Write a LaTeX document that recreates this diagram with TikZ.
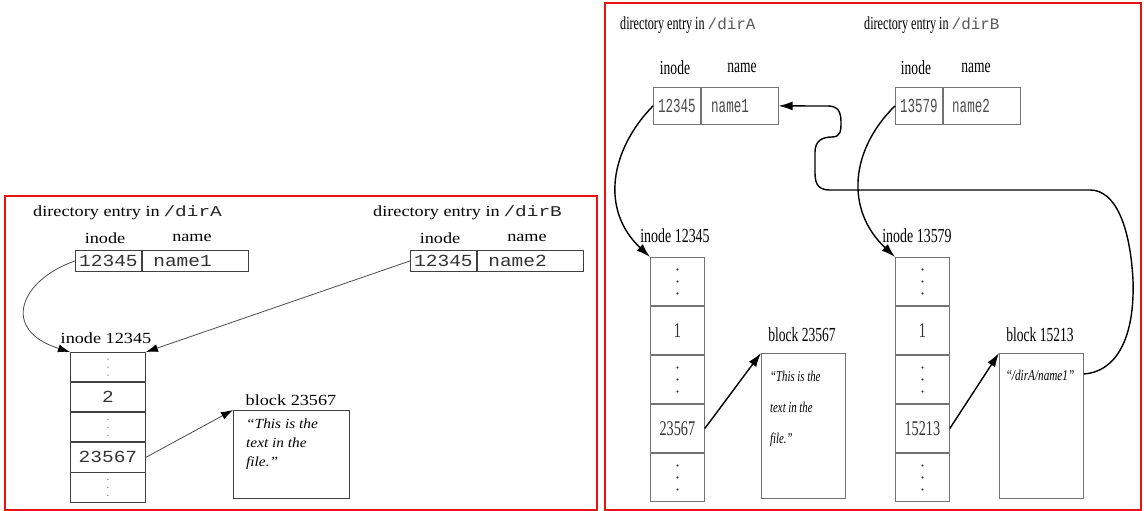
\documentclass[tikz,border=0pt]{standalone}
\usepackage{fontspec}
\setmainfont{Liberation Serif}
\setmonofont{Liberation Mono}
\usepackage{graphicx}
\usetikzlibrary{arrows.meta,calc}
\newcommand\LW[1]{\scalebox{1.18}[1]{#1}}
\newcommand\LT[1]{\scalebox{1.15}[1]{#1}}
\newcommand\RC[1]{\scalebox{0.66}[1]{#1}}
\newcommand\RT[1]{\scalebox{0.63}[1]{#1}}
\begin{document}
\begin{tikzpicture}[x=1bp,y=-1bp,
 frame/.style={draw={rgb,255:red,232;green,18;blue,18}, line width=1.6bp},
 lcell/.style={draw=black!75,line width=0.9bp,inner sep=0pt,anchor=north west},
 rcell/.style={draw=black!55,line width=0.8bp,inner sep=0pt,anchor=north west},
 ltext/.style={inner sep=0pt,font=\fontsize{15.5}{18}\selectfont},
 ltt/.style={font=\fontsize{17}{20}\selectfont\ttfamily,text=black!80},
 rtext/.style={inner sep=0pt,font=\fontsize{20}{24}\selectfont},
 rtt/.style={font=\fontsize{20}{24}\selectfont\ttfamily,text=black!70},
 rnum/.style={font=\fontsize{21}{24}\selectfont,text=black!80},
 larr/.style={draw=black!70,line width=0.8bp,-{Latex[length=12bp,width=8bp,color=black]}},
 rarr/.style={draw=black,line width=1.4bp,-{Latex[length=14bp,width=9bp]}},
 ldot/.style={fill=black!50},
 rdot/.style={fill=black!80}
]
\useasboundingbox (0,0) rectangle (1144,511);
\fill[white] (0,0) rectangle (1144,511);

% ---------------- left panel ----------------
\draw[frame] (5,196) rectangle (597,510);

\node[ltext,anchor=west] (lhA) at (33,213) {\LW{directory entry in} \scalebox{1.3}[1]{\fontsize{15}{18}\selectfont\ttfamily\color{black!85}/dirA}};
\node[ltext,anchor=west] (lhB) at (373,213) {\LW{directory entry in} \scalebox{1.3}[1]{\fontsize{15}{18}\selectfont\ttfamily\color{black!85}/dirB}};
\node[ltext] (lhAi) at (105,238) {\LW{inode}};
\node[ltext] (lhAn) at (192,238) {\LW{name}};
\node[ltext] (lhBi) at (440,238) {\LW{inode}};
\node[ltext] (lhBn) at (527,238) {\LW{name}};

\node[lcell,ltt,minimum width=66bp,minimum height=21bp] (lAi) at (75,250) {\LT{12345}};
\node[lcell,ltt,minimum height=21bp,text width=84bp,inner xsep=11bp,align=left] (lAn) at (lAi.north east) {\LT{name1}};
\node[lcell,ltt,minimum width=66bp,minimum height=21bp] (lBi) at (410,250) {\LT{12345}};
\node[lcell,ltt,minimum height=21bp,text width=84bp,inner xsep=11bp,align=left] (lBn) at (lBi.north east) {\LT{name2}};

\node[ltext] (lil) at (106,338) {\LW{inode 12345}};
\node[lcell,minimum width=75bp,minimum height=29.2bp] (lc1) at (70,352) {};
\node[lcell,ltt,minimum width=75bp,minimum height=29.2bp] (lc2) at (lc1.south west) {\LT{2}};
\node[lcell,minimum width=75bp,minimum height=29.2bp] (lc3) at (lc2.south west) {};
\node[lcell,ltt,minimum width=75bp,minimum height=29.2bp] (lc4) at (lc3.south west) {\LT{23567}};
\node[lcell,minimum width=75bp,minimum height=29.2bp] (lc5) at (lc4.south west) {};
\foreach \c in {lc1,lc3,lc5}{
  \fill[ldot] ([yshift=8bp]\c.center) circle (0.75bp);
  \fill[ldot] (\c.center) circle (0.75bp);
  \fill[ldot] ([yshift=-8bp]\c.center) circle (0.75bp);
}

\node[ltext] (lbl) at (291,400) {\LW{block 23567}};
\node[lcell,minimum width=116bp,minimum height=88bp] (lbk) at (233,410) {};
\node[anchor=north west,inner sep=0pt,align=left,font=\fontsize{14}{19}\selectfont\itshape] (lbt) at (246,419)
  {\scalebox{1.1}[1]{“This is the}\\ \scalebox{1.1}[1]{text in the}\\ \scalebox{1.1}[1]{file.”}};

\draw[larr] (lAi.west) .. controls (20,280) and (0,330) .. (lc1.north west);
\draw[larr] (lBi.west) -- (lc1.north east);
\draw[larr] (lc4.east) -- (lbk.north west);

% ---------------- right panel ----------------
\draw[frame] (605,3) rectangle (1141,510);

\node[inner sep=0pt,anchor=west] (rhA) at (620,25) {\fontsize{18.5}{21}\selectfont\RC{directory entry in}\,{\fontsize{16}{18}\selectfont\ttfamily\color{black!65}/dirA}};
\node[inner sep=0pt,anchor=west] (rhB) at (864,25) {\fontsize{18.5}{21}\selectfont\RC{directory entry in}\,{\fontsize{16}{18}\selectfont\ttfamily\color{black!65}/dirB}};
\node[rtext] (rhAi) at (675,68) {\scalebox{0.68}[1]{inode}};
\node[rtext] (rhAn) at (742,68) {\scalebox{0.68}[1]{name}};
\node[rtext] (rhBi) at (916,68) {\scalebox{0.68}[1]{inode}};
\node[rtext] (rhBn) at (976,68) {\scalebox{0.68}[1]{name}};

\node[rcell,rtt,minimum width=47bp,minimum height=37bp] (rAi) at (653,87) {\RT{12345}};
\node[rcell,rtt,minimum height=37bp,inner xsep=10bp,text width=57bp,align=left] (rAn) at (rAi.north east) {\RT{name1}};
\node[rcell,rtt,minimum width=47bp,minimum height=37bp] (rBi) at (895,87) {\RT{13579}};
\node[rcell,rtt,minimum height=37bp,inner xsep=9bp,text width=59bp,align=left] (rBn) at (rBi.north east) {\RT{name2}};

% inode 12345 (right)
\node[rtext] (ril) at (675,236) {\scalebox{0.7}[1]{inode 12345}};
\node[rcell,minimum width=54bp,minimum height=48.2bp] (rc1) at (650,257) {};
\node[rcell,rnum,minimum width=54bp,minimum height=48.2bp] (rc2) at (rc1.south west) {\scalebox{0.68}[1]{1}};
\node[rcell,minimum width=54bp,minimum height=48.2bp] (rc3) at (rc2.south west) {};
\node[rcell,rnum,minimum width=54bp,minimum height=48.2bp] (rc4) at (rc3.south west) {\scalebox{0.68}[1]{23567}};
\node[rcell,minimum width=54bp,minimum height=48.2bp] (rc5) at (rc4.south west) {};

\node[rtext] (rbAl) at (802,335) {\scalebox{0.68}[1]{block 23567}};
\node[rcell,minimum width=84bp,minimum height=145bp] (rbA) at (761,353) {};
\node[anchor=north west,inner sep=0pt,align=left,font=\fontsize{15}{31}\selectfont\itshape] (rbAt) at (770,371)
  {\scalebox{0.72}[1]{“This is the}\\ \scalebox{0.72}[1]{text in the}\\ \scalebox{0.72}[1]{file.”}};

% inode 13579 (right)
\node[rtext] (rjl) at (917,236) {\scalebox{0.7}[1]{inode 13579}};
\node[rcell,minimum width=54bp,minimum height=48.2bp] (rd1) at (895,257) {};
\node[rcell,rnum,minimum width=54bp,minimum height=48.2bp] (rd2) at (rd1.south west) {\scalebox{0.68}[1]{1}};
\node[rcell,minimum width=54bp,minimum height=48.2bp] (rd3) at (rd2.south west) {};
\node[rcell,rnum,minimum width=54bp,minimum height=48.2bp] (rd4) at (rd3.south west) {\scalebox{0.68}[1]{15213}};
\node[rcell,minimum width=54bp,minimum height=48.2bp] (rd5) at (rd4.south west) {};

\foreach \c in {rc1,rc3,rc5,rd1,rd3,rd5}{
  \fill[rdot] ([yshift=12bp]\c.center) circle (1.1bp);
  \fill[rdot] (\c.center) circle (1.1bp);
  \fill[rdot] ([yshift=-12bp]\c.center) circle (1.1bp);
}

\node[rtext] (rbBl) at (1040,335) {\scalebox{0.68}[1]{block 15213}};
\node[rcell,minimum width=84bp,minimum height=145bp] (rbB) at (999,353) {};
\node[inner sep=0pt,font=\fontsize{15}{18}\selectfont\itshape] (rbBt) at (1040,375) {\scalebox{0.75}[1]{“/dirA/name1”}};

\draw[rarr] (rAi.west) .. controls (610,150) and (600,210) .. (rc1.north west);
\draw[rarr] (rBi.west) .. controls (850,150) and (845,210) .. (rd1.north west);
\draw[rarr] (rc4.east) -- (rbA.north west);
\draw[rarr] (rd4.east) -- (rbB.north west);
\draw[rarr] ([yshift=-21bp]rbB.north east)
  .. controls (1115,372) and (1135,340) .. (1133,280)
  .. controls (1130,225) and (1115,190) .. (1090,190)
  -- (830,190)
  .. controls (815,190) and (815,180) .. (815,170)
  -- (815,152)
  .. controls (815,141) and (822,137) .. (832,137)
  .. controls (841,137) and (841,130) .. (841,122)
  .. controls (841,112) and (838,106) .. (828,106)
  -- (rAn.east);
\end{tikzpicture}
\end{document}
